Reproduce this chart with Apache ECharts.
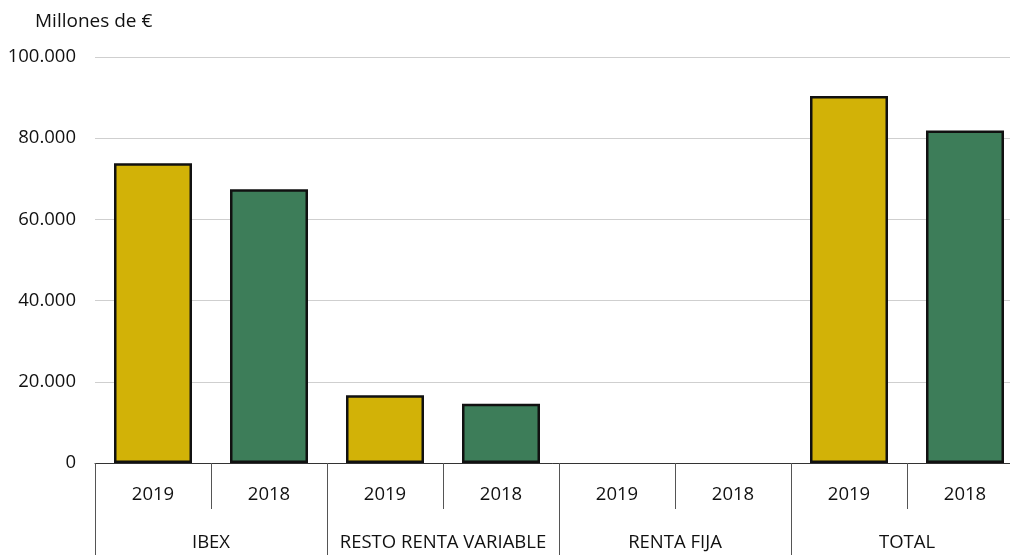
<!DOCTYPE html>
<html>
<head>
<meta charset="utf-8">
<script src="https://cdn.jsdelivr.net/npm/echarts@6/dist/echarts.min.js"></script>
<style>
  html, body { margin: 0; padding: 0; background: #fff; }
  #chart { width: 1010px; height: 555px; }
</style>
</head>
<body>
<div id="chart"></div>
<script>
// Grupos y años de la serie (millones de euros)
const groups = ['IBEX', 'RESTO RENTA VARIABLE', 'RENTA FIJA', 'TOTAL'];
const years = ['2019', '2018'];
const values2019 = [73800, 16700, 0, 90400];
const values2018 = [67400, 14600, 0, 81900];
const yTicks = [0, 20000, 40000, 60000, 80000, 100000];

const yearColors = { '2019': '#D2B207', '2018': '#3D7D59' };
const FONT = '"Open Sans", "Noto Sans", sans-serif';
const TXT = '#111';

// Categorías del primer nivel: año dentro de cada grupo
const categories = [];
const barData = [];
groups.forEach((g, i) => {
  years.forEach((y) => {
    categories.push(y);
    const v = y === '2019' ? values2019[i] : values2018[i];
    barData.push({
      value: v,
      itemStyle: { color: yearColors[y], borderWidth: v > 0 ? 2.5 : 0 }
    });
  });
});

const fmt = (v) => String(v).replace(/\B(?=(\d{3})+(?!\d))/g, '.');

const chart = echarts.init(document.getElementById('chart'), null, { renderer: 'canvas' });
chart.setOption({
  animation: false,
  backgroundColor: '#fff',
  title: {
    text: 'Millones de €',
    left: 30, top: 7,
    textStyle: { fontFamily: FONT, fontSize: 19, fontWeight: 'normal', color: TXT }
  },
  grid: {
    left: 95, width: 928, top: 57, bottom: 92,
    containLabel: false, outerBoundsMode: 'none'
  },
  xAxis: [
    {
      type: 'category',
      data: categories,
      position: 'bottom',
      axisLine: { show: true, lineStyle: { color: '#333', width: 1 } },
      axisTick: { show: true, interval: 0, length: 46, lineStyle: { color: '#555', width: 1 } },
      axisLabel: { interval: 0, margin: 22, fontFamily: FONT, fontSize: 18.5, color: TXT }
    },
    {
      type: 'category',
      data: groups,
      position: 'bottom',
      axisLine: { show: false },
      axisTick: { show: true, interval: 0, length: 92, lineStyle: { color: '#555', width: 1 } },
      axisLabel: { interval: 0, margin: 70, fontFamily: FONT, fontSize: 18.5, color: TXT }
    }
  ],
  yAxis: {
    type: 'value',
    min: 0, max: 100000, interval: 20000,
    axisLine: { show: false },
    axisTick: { show: false },
    splitLine: { lineStyle: { color: '#cfcfcf', width: 1 } },
    axisLabel: {
      margin: 19, fontFamily: FONT, fontSize: 18.5, color: TXT,
      formatter: (v) => yTicks.includes(v) ? fmt(v) : ''
    }
  },
  series: [{
    type: 'bar',
    xAxisIndex: 0,
    data: barData,
    barWidth: 78,
    itemStyle: { borderColor: '#111' }
  }]
});
</script>
</body>
</html>
